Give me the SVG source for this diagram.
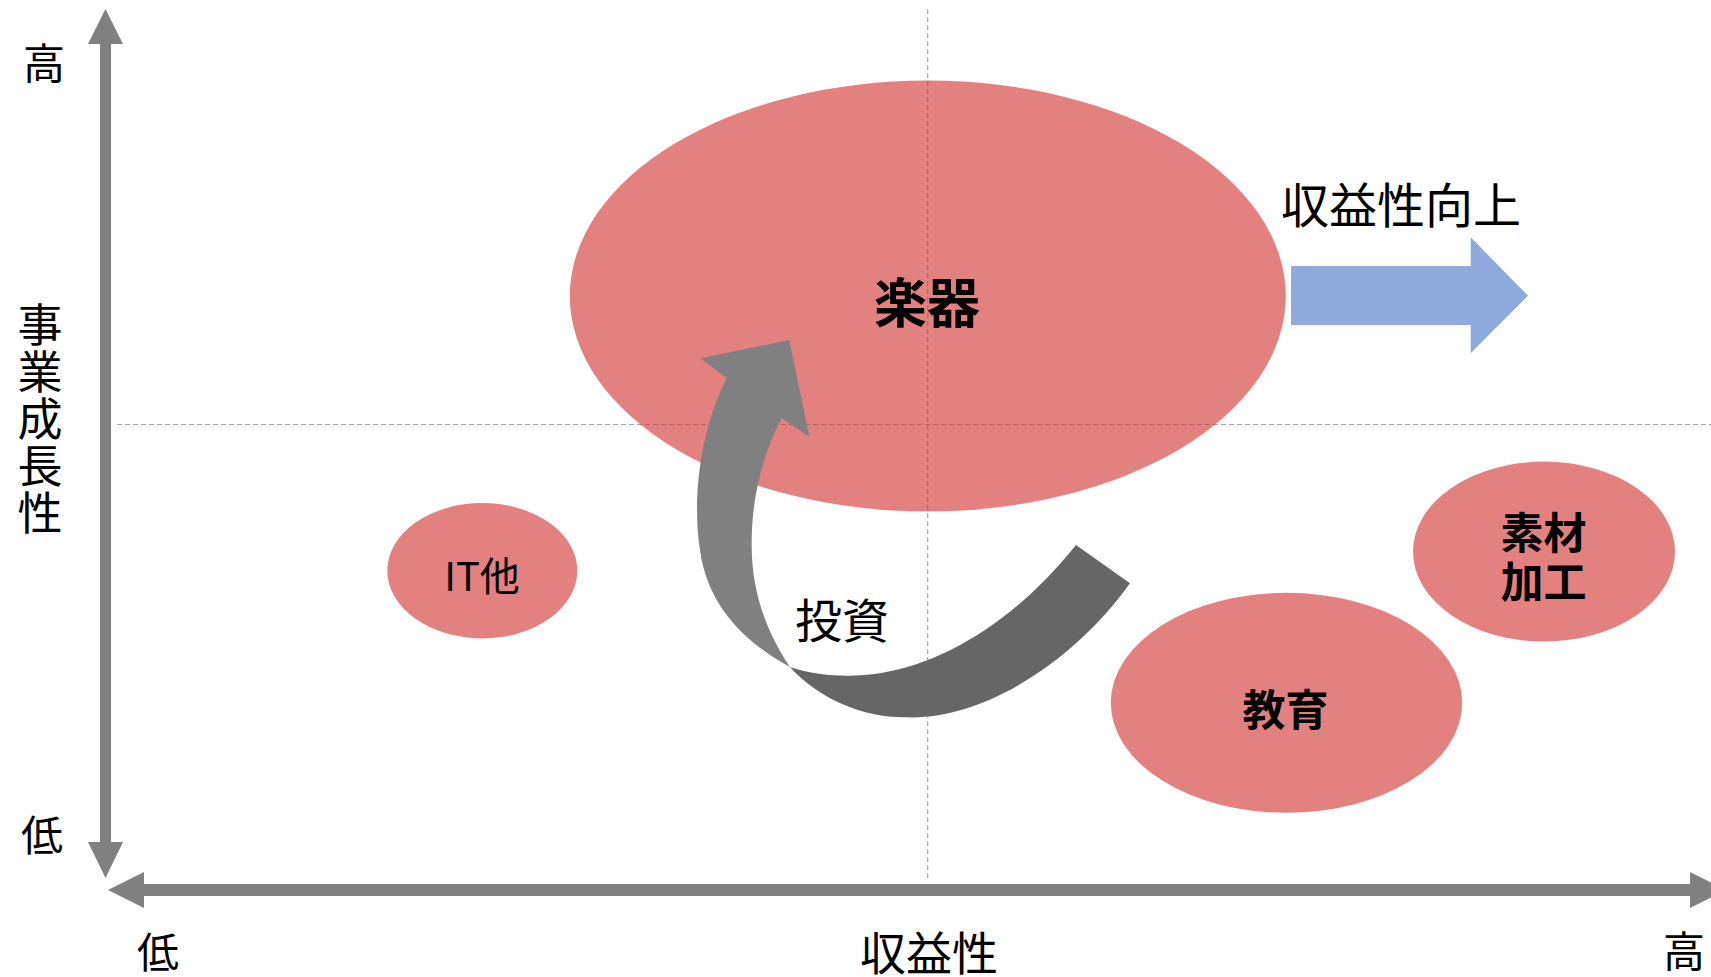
<svg xmlns="http://www.w3.org/2000/svg" width="1711" height="977" viewBox="0 0 1711 977">
<style>
  .t { font-family: "Noto Sans CJK JP", "Noto Sans", sans-serif; fill: #000; text-anchor: middle; dominant-baseline: central; }
  .v { font-family: "Noto Sans CJK JP", "Noto Sans", sans-serif; fill: #000; text-anchor: middle; writing-mode: vertical-rl; }
  .b { font-weight: bold; }
  .blob { fill: #D02B2B; fill-opacity: 0.6; }
  .axis { fill: #808080; }
  .dash { stroke: #A6A6A6; stroke-width: 1.2; stroke-dasharray: 5 3; fill: none; }
</style>
<rect width="1711" height="977" fill="#fff"/>
<g id="grid">
  <line class="dash" x1="117" y1="424.5" x2="1711" y2="424.5"/>
  <line class="dash" x1="927.7" y1="9" x2="927.7" y2="878"/>
</g>
<g id="axes">
  <rect class="axis" x="100" y="42" width="11" height="802"/>
  <polygon class="axis" points="88,44 105.5,9 123,44"/>
  <polygon class="axis" points="88,842 105.5,878 123,842"/>
  <rect class="axis" x="142" y="884" width="1550" height="12"/>
  <polygon class="axis" points="144,872 108,890 144,908"/>
  <polygon class="axis" points="1690,872 1726,890 1690,908"/>
</g>
<g id="axis-labels">
  <text class="t" x="44" y="60" font-size="42">高</text>
  <text class="t" x="42" y="832" font-size="42">低</text>
  <text class="t" x="158" y="949" font-size="42">低</text>
  <text class="t" x="1684" y="948" font-size="42">高</text>
  <text class="t" x="929" y="950" font-size="46">収益性</text>
  <text class="v" x="40" y="420" font-size="45" letter-spacing="2">事業成長性</text>
</g>
<g id="node-gakki">
  <ellipse class="blob" cx="927.8" cy="296" rx="358" ry="215.5"/>
  <text class="t b" x="927" y="300" font-size="53">楽器</text>
</g>
<g id="node-it">
  <ellipse class="blob" cx="482.3" cy="570.7" rx="95" ry="67.7"/>
  <text class="t" x="482" y="574" font-size="40">IT他</text>
</g>
<g id="node-sozai">
  <ellipse class="blob" cx="1544" cy="551.6" rx="131" ry="90"/>
  <text class="t b" x="1543.5" y="530" font-size="43">素材</text>
  <text class="t b" x="1543.5" y="579" font-size="43">加工</text>
</g>
<g id="node-kyoiku">
  <ellipse class="blob" cx="1286.5" cy="702.8" rx="175.7" ry="110"/>
  <text class="t b" x="1285.5" y="707" font-size="43">教育</text>
</g>
<g id="connectors">
  <path fill="#666666" d="M 1076 545 L 1130 583.3 C 1075 660, 985 720, 906.7 717.3 C 865 718, 820 700, 790 667 C 815 676, 850 678, 880 673.3 C 950 662, 1020 615, 1076 545 Z"/>
  <path fill="#808080" d="M 726.7 378.3 L 700.7 358.3 L 789.3 340 L 809.3 436.7 L 781.7 418.3 C 762 455, 751 500, 751.7 547 C 752 590, 765 630, 790 667 C 750 645, 708 610, 700 550 C 692 500, 700 430, 726.7 378.3 Z"/>
  <polygon fill="#8FAADC" points="1291,266 1470.7,266 1470.7,237.3 1528,295.7 1470.7,353.3 1470.7,325 1291,325"/>
</g>
<g id="labels">
  <text class="t" x="842" y="617" font-size="47">投資</text>
  <text class="t" x="1401" y="202" font-size="48">収益性向上</text>
</g>
</svg>
